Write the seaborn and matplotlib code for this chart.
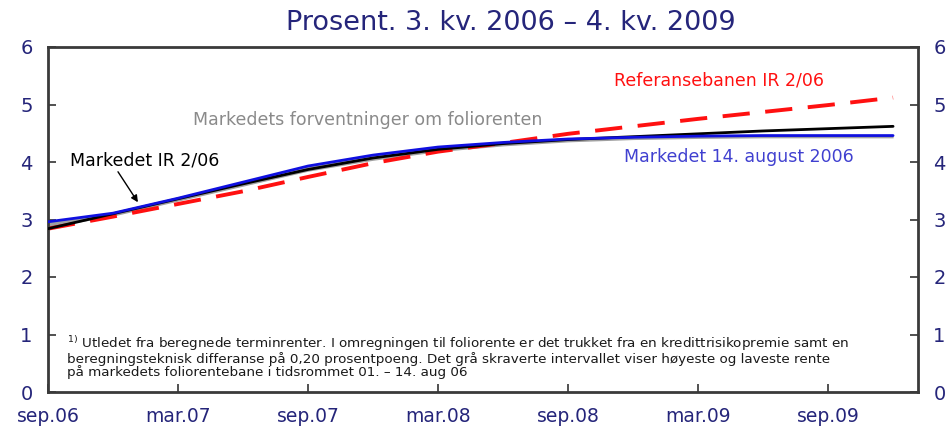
import matplotlib
matplotlib.use("Agg")
import matplotlib.pyplot as plt
import pandas as pd
import seaborn as sns

# months after sep.06
months = [0, 3, 6, 9, 12, 15, 18, 21, 24, 27, 30, 33, 36, 39]
markedet_ir = [2.84, 3.10, 3.36, 3.62, 3.87, 4.07, 4.22, 4.32, 4.39, 4.44, 4.49, 4.54, 4.58, 4.62]
markedet_aug = [2.96, 3.11, 3.37, 3.65, 3.93, 4.12, 4.26, 4.34, 4.40, 4.43, 4.45, 4.46, 4.46, 4.46]
referanse = [2.84, 3.05, 3.27, 3.49, 3.74, 3.98, 4.18, 4.33, 4.49, 4.62, 4.75, 4.87, 4.99, 5.12]
band_low = [2.86, 3.06, 3.32, 3.58, 3.84, 4.03, 4.18, 4.28, 4.35, 4.39, 4.41, 4.42, 4.42, 4.42]
band_high = [2.97, 3.12, 3.38, 3.66, 3.94, 4.13, 4.27, 4.35, 4.41, 4.44, 4.46, 4.47, 4.47, 4.47]

tick_months = [0, 6, 12, 18, 24, 30, 36]
tick_labels = ["sep.06", "mar.07", "sep.07", "mar.08", "sep.08", "mar.09", "sep.09"]

df = pd.DataFrame({"m": months, "ir": markedet_ir, "aug": markedet_aug, "ref": referanse})

sns.set_style("white")
plt.rcParams["font.family"] = ["DejaVu Sans"]
navy = "#25257a"

fig = plt.figure(figsize=(9.53, 4.29), dpi=100)
ax = fig.add_axes([48 / 953, 1 - 392 / 429, 870 / 953, 345 / 429])

ax.fill_between(months, band_low, band_high, color="#a0a0a0", lw=0, zorder=1)
sns.lineplot(data=df, x="m", y="ir", ax=ax, color="black", lw=2, zorder=3)
sns.lineplot(data=df, x="m", y="aug", ax=ax, color="#1010e0", lw=2, zorder=4)
sns.lineplot(data=df, x="m", y="ref", ax=ax, color="#ff1010", lw=2.8, zorder=2,
             linestyle=(0, (7, 4)))

ax.set_xlim(0, 40.15)
ax.set_ylim(0, 6)
ax.set_xlabel("")
ax.set_ylabel("")
ax.set_xticks(tick_months)
ax.set_xticklabels(tick_labels)
ax.set_yticks(range(7))
ax.tick_params(axis="x", direction="in", length=6, width=1.2, color="#333333",
               labelsize=13.5, labelcolor=navy, pad=10.5, bottom=True)
ax.tick_params(axis="y", direction="in", length=6, width=1.2, color="#333333",
               labelsize=14, labelcolor=navy, pad=11, left=True, right=True, labelright=True)
for s in ax.spines.values():
    s.set_color("#3a3a3a")
    s.set_linewidth(2)

fig.text(0.536, 1 - 30 / 429, "Prosent. 3. kv. 2006 \u2013 4. kv. 2009", ha="center",
         va="baseline", fontsize=19.5, color=navy)

ax.text(6.7, 4.73, "Markedets forventninger om foliorenten", color="#8a8a8a",
        fontsize=12.5, va="center")
ax.text(26.1, 5.41, "Referansebanen IR 2/06", color="#ff1010", fontsize=12.5, va="center")
ax.text(26.6, 4.09, "Markedet 14. august 2006", color="#4040d0", fontsize=12.5, va="center")
ax.text(1.0, 4.03, "Markedet IR 2/06", color="black", fontsize=12.5, va="center")
ax.annotate("", xy=(4.15, 3.30), xytext=(3.23, 3.83),
            arrowprops=dict(arrowstyle="-|>", color="black", lw=1, shrinkA=0, shrinkB=0,
                            mutation_scale=10))

foot = ("$^{1)}$ Utledet fra beregnede terminrenter. I omregningen til foliorente er det trukket fra en kredittrisikopremie samt en\n"
        "beregningsteknisk differanse p\u00e5 0,20 prosentpoeng. Det gr\u00e5 skraverte intervallet viser h\u00f8yeste og laveste rente\n"
        "p\u00e5 markedets foliorentebane i tidsrommet 01. \u2013 14. aug 06")
ax.text(0.88, 1.0, foot, fontsize=9.7, color="#1a1a1a", va="top", linespacing=0.88)

fig.savefig("out.png", dpi=100)
